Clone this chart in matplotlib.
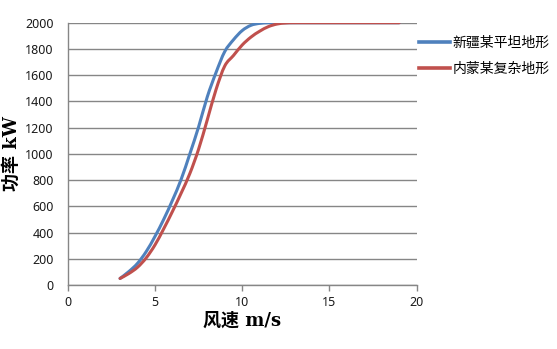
import matplotlib
matplotlib.use("Agg")
import matplotlib.pyplot as plt
from matplotlib.path import Path
from matplotlib.patches import PathPatch
from matplotlib.lines import Line2D

# ---- data ----
wind_speed = [3, 3.5, 4, 4.5, 5, 5.5, 6, 6.5, 7, 7.5, 8, 8.5, 9, 9.5, 10, 10.5, 11, 11.5,
              12, 12.5, 13, 14, 15, 16, 17, 18, 19]
xinjiang_flat = [50, 102, 165, 255, 370, 500, 645, 805, 1000, 1205, 1435, 1620, 1780, 1870, 1940, 1980, 1995, 2000,
                 2000, 2000, 2000, 2000, 2000, 2000, 2000, 2000, 2000]
neimeng_complex = [50, 87, 135, 207, 305, 428, 560, 700, 850, 1035, 1260, 1490, 1670, 1750, 1830, 1890, 1935, 1970,
                   1990, 1998, 2000, 2000, 2000, 2000, 2000, 2000, 2000]
series_names = ["新疆某平坦地形", "内蒙某复杂地形"]
series_colors = ["#4F81BD", "#C0504D"]
x_ticks = [0, 5, 10, 15, 20]
y_ticks = [0, 200, 400, 600, 800, 1000, 1200, 1400, 1600, 1800, 2000]
x_label = "风速 m/s"
y_label = "功率 kW"

plt.rcParams['font.family'] = ['Noto Sans', 'Noto Sans CJK SC', 'DejaVu Sans']

fig = plt.figure(figsize=(5.57, 3.49), dpi=100)
fig.patch.set_facecolor("white")
ax = fig.add_axes([67.7 / 557, 1 - 285 / 349, (416.7 - 67.7) / 557, (285 - 22.7) / 349])


def smooth_path(xs, ys):
    """Excel-like smoothed line: cubic Bezier segments through the data points."""
    pts = list(zip(xs, ys))
    verts = [pts[0]]
    codes = [Path.MOVETO]
    n = len(pts)
    for i in range(n - 1):
        p0 = pts[i - 1] if i > 0 else pts[i]
        p1 = pts[i]
        p2 = pts[i + 1]
        p3 = pts[i + 2] if i + 2 < n else pts[i + 1]
        c1 = (p1[0] + (p2[0] - p0[0]) / 6.0, p1[1] + (p2[1] - p0[1]) / 6.0)
        c2 = (p2[0] - (p3[0] - p1[0]) / 6.0, p2[1] - (p3[1] - p1[1]) / 6.0)
        verts += [c1, c2, p2]
        codes += [Path.CURVE4, Path.CURVE4, Path.CURVE4]
    return Path(verts, codes)


handles = []
for ys, color, name in zip([xinjiang_flat, neimeng_complex], series_colors, series_names):
    patch = PathPatch(smooth_path(wind_speed, ys), facecolor="none", edgecolor=color,
                      linewidth=2.2, capstyle="round", joinstyle="round", zorder=3)
    ax.add_patch(patch)
    handles.append(Line2D([], [], color=color, linewidth=2.6))

ax.set_xlim(0, 20)
ax.set_ylim(0, 2000)
ax.set_xticks(x_ticks)
ax.set_yticks(y_ticks)

ax.grid(axis="y", color="#868686", linewidth=1.0)
ax.set_axisbelow(True)
for side in ["top", "right"]:
    ax.spines[side].set_visible(False)
for side in ["left", "bottom"]:
    ax.spines[side].set_color("#868686")
    ax.spines[side].set_linewidth(1.0)

ax.tick_params(axis="x", length=4, width=1, color="#868686", pad=4, labelsize=9, labelcolor="#1a1a1a")
ax.tick_params(axis="y", length=0, pad=10, labelsize=9, labelcolor="#1a1a1a")

label_family = ['DejaVu Serif', 'Noto Sans CJK SC']
ax.set_xlabel(x_label, fontsize=13, fontweight="bold", family=label_family, labelpad=2)
ax.set_ylabel(y_label, fontsize=13, fontweight="bold", family=label_family, labelpad=3)

leg = fig.legend(handles, series_names, loc="upper left",
                 bbox_to_anchor=(419 / 557, 1 - 35.5 / 349), frameon=False,
                 prop={"family": ["Noto Sans CJK SC"], "size": 10},
                 handlelength=2.2, handletextpad=0.2, labelspacing=0.9,
                 borderpad=0, borderaxespad=0)

fig.savefig("out.png", dpi=100, facecolor="white")
